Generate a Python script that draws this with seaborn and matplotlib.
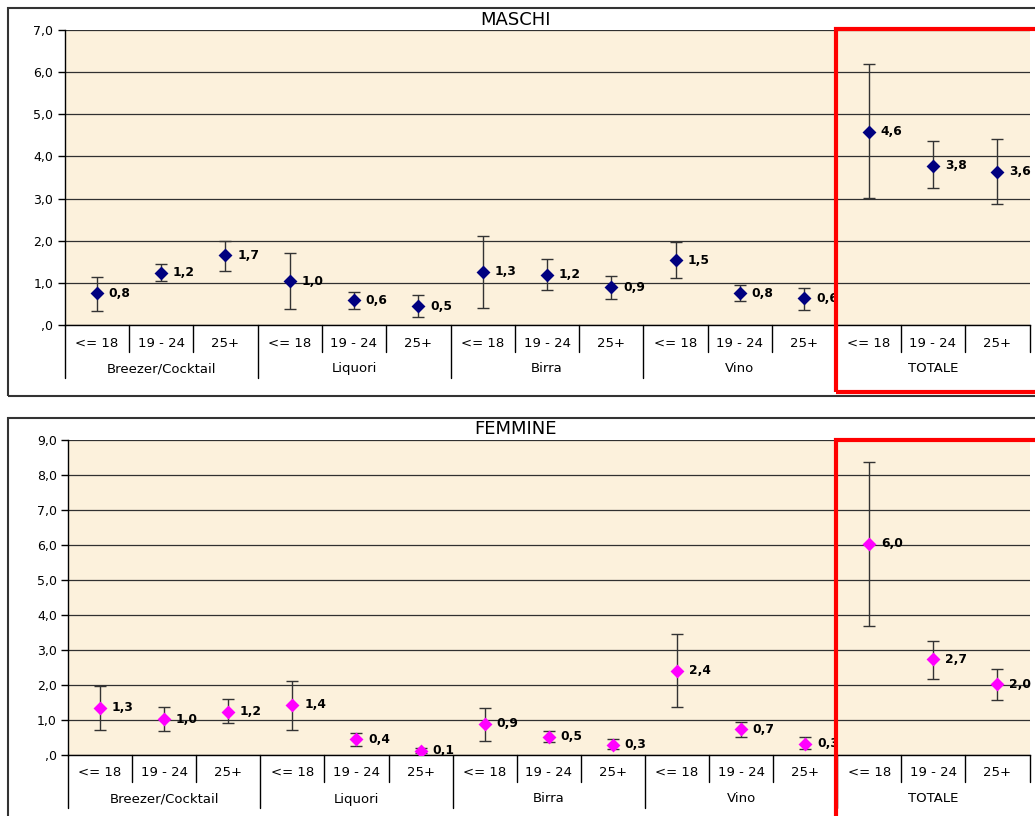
import numpy as np
import pandas as pd
import seaborn as sns
import matplotlib.pyplot as plt
from matplotlib.patches import Rectangle
from matplotlib.lines import Line2D
from matplotlib.transforms import blended_transform_factory

groups = ['Breezer/Cocktail', 'Liquori', 'Birra', 'Vino', 'TOTALE']
ages = ['<= 18', '19 - 24', '25+']

# MASCHI
maschi_val = [0.75, 1.24, 1.66, 1.04, 0.59, 0.45, 1.26, 1.19, 0.89, 1.54, 0.75, 0.63, 4.59, 3.78, 3.64]
maschi_lo = [0.34, 1.04, 1.29, 0.38, 0.38, 0.18, 0.40, 0.82, 0.62, 1.11, 0.57, 0.36, 3.02, 3.24, 2.87]
maschi_hi = [1.13, 1.44, 2.00, 1.70, 0.79, 0.72, 2.10, 1.56, 1.17, 1.98, 0.95, 0.88, 6.19, 4.36, 4.41]
maschi_lab = ['0,8', '1,2', '1,7', '1,0', '0,6', '0,5', '1,3', '1,2', '0,9', '1,5', '0,8', '0,6', '4,6', '3,8', '3,6']

# FEMMINE
femmine_val = [1.35, 1.02, 1.24, 1.44, 0.45, 0.12, 0.89, 0.52, 0.30, 2.41, 0.74, 0.32, 6.03, 2.74, 2.02]
femmine_lo = [0.72, 0.69, 0.91, 0.72, 0.26, 0.05, 0.40, 0.37, 0.18, 1.37, 0.52, 0.18, 3.69, 2.18, 1.57]
femmine_hi = [1.98, 1.37, 1.59, 2.12, 0.64, 0.20, 1.35, 0.69, 0.45, 3.46, 0.93, 0.52, 8.38, 3.25, 2.45]
femmine_lab = ['1,3', '1,0', '1,2', '1,4', '0,4', '0,1', '0,9', '0,5', '0,3', '2,4', '0,7', '0,3', '6,0', '2,7', '2,0']

W, H = 1035, 816
sns.set_style('white')
plt.rcParams['font.family'] = ['DejaVu Sans']
plt.rcParams['text.color'] = 'black'
plt.rcParams['ytick.color'] = 'black'

fig = plt.figure(figsize=(W / 100, H / 100), dpi=100)


def fx(px):
    return px / W


def fy(py):
    return 1 - py / H


def panel(left, top, bottom, ymax, vals, lo, hi, labs, color, title, title_y, frame_top, frame_bottom, red_top, red_bottom):
    ax = fig.add_axes([fx(left), fy(bottom), fx(1029.5 - left), (bottom - top) / H])
    ax.set_facecolor('#FCF1DC')
    df = pd.DataFrame({'pos': np.arange(len(vals)), 'value': vals, 'lo': lo, 'hi': hi})

    ax.errorbar(df['pos'], df['value'], yerr=[df['value'] - df['lo'], df['hi'] - df['value']],
                fmt='none', ecolor='#333333', elinewidth=1, capsize=4.3, capthick=1, zorder=3)
    sns.scatterplot(data=df, x='pos', y='value', marker='D', s=50, color=color,
                    edgecolor=color, linewidth=0, ax=ax, zorder=4, legend=False)
    for x, y, t in zip(df['pos'], df['value'], labs):
        ax.annotate(t, (x, y), xytext=(8.5, 0), textcoords='offset points', ha='left', va='center',
                    fontsize=8.8, fontweight='bold', color='black', annotation_clip=False, zorder=5)

    ax.set_xlim(-0.5, len(vals) - 0.5)
    ax.set_ylim(0, ymax)
    ax.set_yticks(range(ymax + 1))
    ax.set_yticklabels([',0' if v == 0 else f'{v},0' for v in range(ymax + 1)], fontsize=9)
    ax.set_xticks([])
    ax.set_xlabel('')
    ax.set_ylabel('')
    ax.grid(axis='y', color='#303030', lw=0.9)
    ax.set_axisbelow(True)
    ax.tick_params(axis='y', direction='out', length=5, width=1, pad=3, left=True, colors='black')
    for s in ['top', 'right']:
        ax.spines[s].set_visible(False)
    for s in ['left', 'bottom']:
        ax.spines[s].set_color('black')
        ax.spines[s].set_linewidth(1)

    # two-level category axis
    trans = blended_transform_factory(ax.transData, fig.transFigure)
    for i in range(len(vals)):
        ax.text(i, fy(bottom + 18), ages[i % 3], transform=trans, ha='center', va='center',
                fontsize=9.5, color='black')
    for g, name in enumerate(groups):
        ax.text(3 * g + 1, fy(bottom + 44), name, transform=trans, ha='center', va='center',
                fontsize=9.5, color='black')
    for k in range(len(vals) + 1):
        b = k - 0.5
        long = (k % 3 == 0) and k < len(vals)
        fig.add_artist(Line2D([b, b], [fy(bottom), fy(bottom + (53 if long else 27))],
                              transform=trans, color='black', lw=1))

    fig.text(fx(515), fy(title_y), title, ha='center', va='center', fontsize=13, color='black')
    fig.add_artist(Rectangle((fx(8), fy(frame_bottom)), fx(1045 - 8), (frame_bottom - frame_top) / H,
                             transform=fig.transFigure, fill=False, edgecolor='#333333', lw=1.5, zorder=1))
    fig.add_artist(Rectangle((fx(836), fy(red_bottom)), fx(1045 - 836), (red_bottom - red_top) / H,
                             transform=fig.transFigure, fill=False, edgecolor='#FF0000', lw=3, zorder=10))
    return ax


panel(64.5, 30, 325, 7, maschi_val, maschi_lo, maschi_hi, maschi_lab, '#000080', 'MASCHI', 20,
      8, 396, 29, 392)
panel(68, 440, 755, 9, femmine_val, femmine_lo, femmine_hi, femmine_lab, '#FF00FF', 'FEMMINE', 429,
      418, 830, 440, 830)

fig.savefig('out.png', dpi=100)
